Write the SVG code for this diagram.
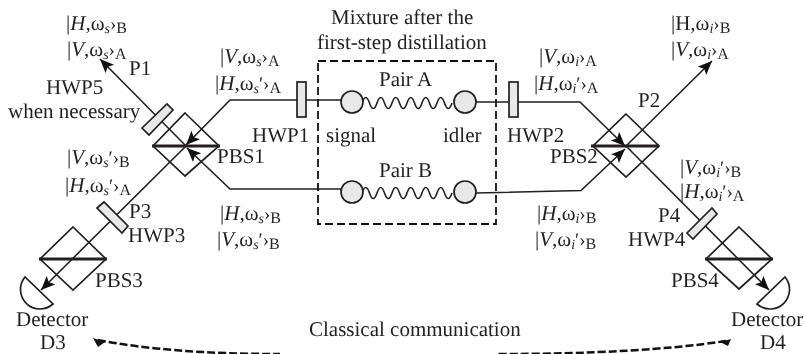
<svg xmlns="http://www.w3.org/2000/svg" width="804" height="354" viewBox="0 0 804 354">
<style>
text{font-family:"Liberation Serif","Times New Roman",serif;font-size:21px;fill:#231f20;text-rendering:geometricPrecision}
.i{font-style:italic}
.u{font-size:14px;font-style:italic}
.k{font-size:19px}
.c{font-size:16px}
.l{fill:none;stroke:#231f20;stroke-width:1.6}
.t{fill:none;stroke:#231f20;stroke-width:1.7}
.g{fill:#e8e8e8;stroke:#231f20;stroke-width:1.7}
.b{stroke:#231f20;stroke-width:3;fill:none}
.d{fill:none;stroke:#111;stroke-width:2.500;stroke-dasharray:8 3}
.wave{fill:none;stroke:#231f20;stroke-width:1.600}
</style>
<defs>
<filter id="n" x="0" y="0" width="804" height="354" filterUnits="userSpaceOnUse" color-interpolation-filters="sRGB"><feOffset dx="0" dy="0"/></filter>
<marker id="a" markerUnits="userSpaceOnUse" markerWidth="16" markerHeight="14" refX="14" refY="6" orient="auto"><path d="M0 0L14 6L0 12L3 6Z" fill="#111"/></marker>
<path id="w" class="wave" d="M0 0q3.750-11 7.500 0t7.500 0 7.500 0 7.500 0 7.500 0 7.500 0 7.500 0 7.500 0 7.500 0 7.500 0 7.500 0 7.500 0"/>
</defs>
<g id="connectors">
<path class="l" d="M297 100H230L186 145" marker-end="url(#a)"/>
<path class="l" d="M305 100H341M476 102H509M518 102H580L625 146" marker-end="url(#a)"/>
<path class="l" d="M341 189H230L187 148" marker-end="url(#a)"/>
<path class="l" d="M476 193L581 190.500L625 149" marker-end="url(#a)"/>
<path class="l" d="M186 146L100 59" marker-end="url(#a)"/>
<path class="l" d="M625 147L712 61" marker-end="url(#a)"/>
<path class="l" d="M186 146L41 290" marker-end="url(#a)"/>
<path class="l" d="M626 146L769 290" marker-end="url(#a)"/>
<path class="d" d="M98 340Q170 354 280 354"/>
<path class="d" d="M726 341Q640 354 497 354"/>
<path d="M93 338L105 342L98 347Z" fill="#111"/>
<path d="M731 339L720 342L728 346Z" fill="#111"/>
</g>
<g id="pbs1"><path class="t" d="M185 113L219 146L185 176L153 146Z"/><path class="b" d="M152 146H220"/></g>
<g id="pbs2"><path class="t" d="M626 114L659 146L626 177L593 146Z"/><path class="b" d="M591 146H659"/></g>
<g id="pbs3"><path class="t" d="M73 227L106 259L73 290L40 259Z"/><path class="b" d="M39 259H107"/></g>
<g id="pbs4"><path class="t" d="M739 227L772 259L739 289L706 259Z"/><path class="b" d="M705 259H773"/></g>
<g id="hwp1"><rect class="g" x="297" y="82" width="9" height="35"/></g>
<g id="hwp2"><rect class="g" x="509" y="82" width="9" height="35"/></g>
<g id="hwp5"><path class="g" d="M142 128L167 104L173 110L149 135Z"/></g>
<g id="hwp3"><path class="g" d="M97 208L104 202L128 226L122 233Z"/></g>
<g id="hwp4"><path class="g" d="M687 233L712 208L717 214L693 239Z"/></g>
<g id="pairA"><use href="#w" x="362" y="103"/><circle class="g" cx="352" cy="102" r="11"/><circle class="g" cx="465" cy="102" r="11"/></g>
<g id="pairB"><use href="#w" x="362" y="193"/><circle class="g" cx="352" cy="192" r="11"/><circle class="g" cx="465" cy="192" r="11"/></g>
<g id="box"><rect x="318" y="61" width="178" height="163" fill="none" stroke="#111" stroke-width="1.800" stroke-dasharray="8 4"/></g>
<g id="det3"><path class="t" d="M25 277A19.500 19.500 0 0 0 53 304Z"/></g>
<g id="det4"><path class="t" d="M785 277A19.500 19.500 0 0 1 757 304Z"/></g>
<g id="labels" filter="url(#n)">
<text x="331" y="24">Mixture after the</text>
<text x="317" y="49">first-step distillation</text>
<text x="379" y="86">Pair A</text>
<text x="379" y="177">Pair B</text>
<text x="326" y="142">signal</text>
<text x="443" y="142">idler</text>
<text x="252" y="142">HWP1</text>
<text x="507" y="142">HWP2</text>
<text x="46" y="94">HWP5</text>
<text x="8" y="118">when necessary</text>
<text x="129" y="75">P1</text>
<text x="638" y="107">P2</text>
<text x="129" y="218">P3</text>
<text x="658" y="222">P4</text>
<text x="217" y="163">PBS1</text>
<text x="550" y="163">PBS2</text>
<text x="95" y="287">PBS3</text>
<text x="671" y="287">PBS4</text>
<text x="128" y="242">HWP3</text>
<text x="628" y="246">HWP4</text>
<text x="16" y="326">Detector</text>
<text x="40" y="349">D3</text>
<text x="731" y="326">Detector</text>
<text x="760" y="349">D4</text>
<text x="309" y="336">Classical communication</text>
<text x="66" y="30">|<tspan class="i">H</tspan>,ω<tspan class="u" dy="3">s</tspan><tspan class="k" dy="-3">›</tspan><tspan class="c" dy="3">B</tspan></text>
<text x="67" y="56">|<tspan class="i">V</tspan>,ω<tspan class="u" dy="3">s</tspan><tspan class="k" dy="-3">›</tspan><tspan class="c" dy="3">A</tspan></text>
<text x="220" y="63">|<tspan class="i">V</tspan>,ω<tspan class="u" dy="3">s</tspan><tspan class="k" dy="-3">›</tspan><tspan class="c" dy="3">A</tspan></text>
<text x="215" y="90">|<tspan class="i">H</tspan>,ω<tspan class="u" dy="3">s</tspan><tspan class="k" dy="-3">′›</tspan><tspan class="c" dy="3">A</tspan></text>
<text x="67" y="164">|<tspan class="i">V</tspan>,ω<tspan class="u" dy="3">s</tspan><tspan class="k" dy="-3">′›</tspan><tspan class="c" dy="3">B</tspan></text>
<text x="65" y="192">|<tspan class="i">H</tspan>,ω<tspan class="u" dy="3">s</tspan><tspan class="k" dy="-3">′›</tspan><tspan class="c" dy="3">A</tspan></text>
<text x="220" y="220">|<tspan class="i">H</tspan>,ω<tspan class="u" dy="3">s</tspan><tspan class="k" dy="-3">›</tspan><tspan class="c" dy="3">B</tspan></text>
<text x="217" y="246">|<tspan class="i">V</tspan>,ω<tspan class="u" dy="3">s</tspan><tspan class="k" dy="-3">′›</tspan><tspan class="c" dy="3">B</tspan></text>
<text x="671" y="30">|H,ω<tspan class="u" dy="3">i</tspan><tspan class="k" dy="-3">›</tspan><tspan class="c" dy="3">B</tspan></text>
<text x="671" y="56">|<tspan class="i">V</tspan>,ω<tspan class="u" dy="3">i</tspan><tspan class="k" dy="-3">›</tspan><tspan class="c" dy="3">A</tspan></text>
<text x="539" y="63">|<tspan class="i">V</tspan>,ω<tspan class="u" dy="3">i</tspan><tspan class="k" dy="-3">›</tspan><tspan class="c" dy="3">A</tspan></text>
<text x="534" y="90">|<tspan class="i">H</tspan>,ω<tspan class="u" dy="3">i</tspan><tspan class="k" dy="-3">′›</tspan><tspan class="c" dy="3">A</tspan></text>
<text x="680" y="174">|<tspan class="i">V</tspan>,ω<tspan class="u" dy="3">i</tspan><tspan class="k" dy="-3">′›</tspan><tspan class="c" dy="3">B</tspan></text>
<text x="680" y="198">|<tspan class="i">H</tspan>,ω<tspan class="u" dy="3">i</tspan><tspan class="k" dy="-3">′›</tspan><tspan class="c" dy="3">A</tspan></text>
<text x="537" y="220">|<tspan class="i">H</tspan>,ω<tspan class="u" dy="3">i</tspan><tspan class="k" dy="-3">›</tspan><tspan class="c" dy="3">B</tspan></text>
<text x="535" y="246">|<tspan class="i">V</tspan>,ω<tspan class="u" dy="3">i</tspan><tspan class="k" dy="-3">′›</tspan><tspan class="c" dy="3">B</tspan></text>
</g>
</svg>
